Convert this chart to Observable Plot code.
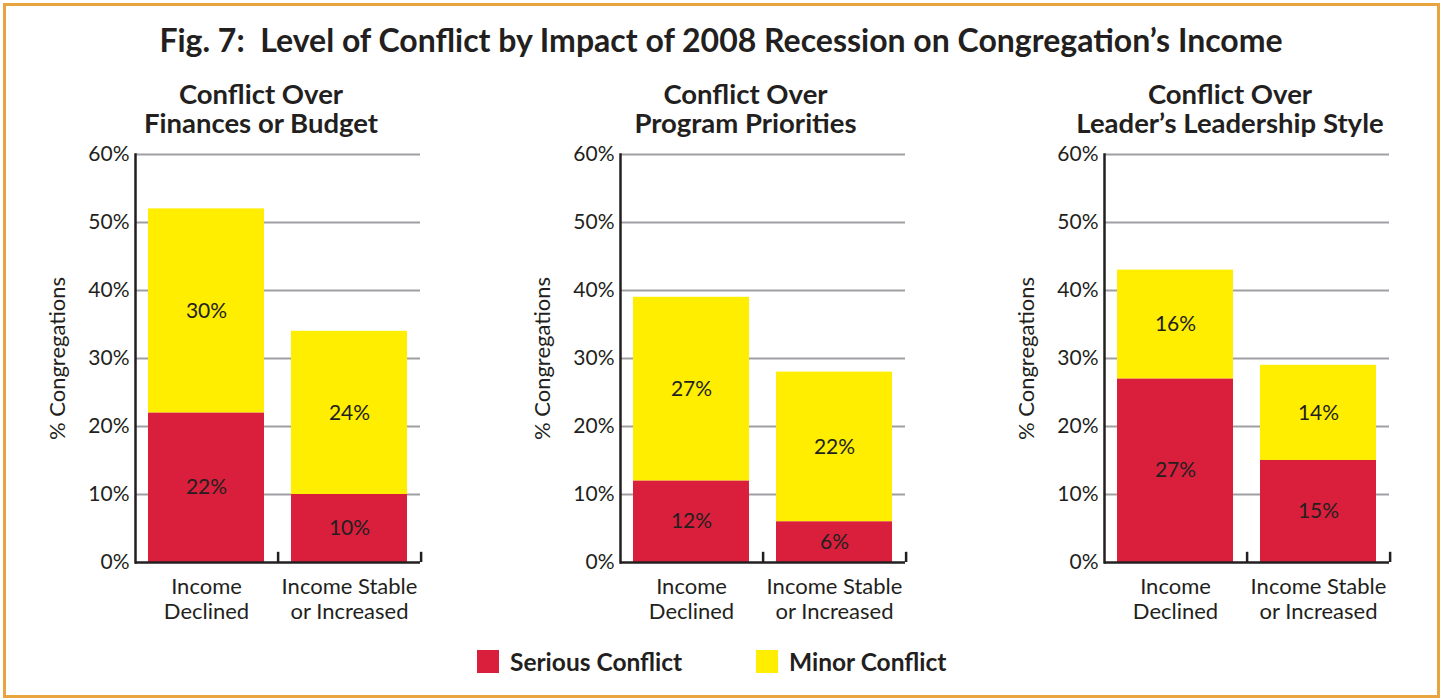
<!DOCTYPE html>
<html><head><meta charset="utf-8">
<script src="https://cdn.jsdelivr.net/npm/d3@7"></script>
<script src="https://cdn.jsdelivr.net/npm/@observablehq/plot@0.6"></script>
<style>
body{margin:0;background:#fff;font-family:Lato,"Open Sans",sans-serif;color:#231F20}
#wrap{position:relative;width:1442px;height:700px;overflow:hidden;background:#fff}
#frame{position:absolute;left:3px;top:3px;width:1437px;height:695px;border:3px solid #E8A43E;box-sizing:border-box}
.abs{position:absolute;white-space:nowrap}
#title{left:0;width:1442px;text-align:center;top:21px;font-weight:700;font-size:32px;line-height:38px}
.sub{font-weight:700;font-size:27.5px;line-height:29px;text-align:center;transform:translateX(-50%);white-space:pre}
.panel{position:absolute;top:140px}
.leg{display:flex;align-items:center;font-weight:700;font-size:24.5px}
.sw{width:22px;height:23px;margin-right:11px}
</style>
</head><body>
<div id="wrap">
  <div id="frame"></div>
  <div id="title" class="abs">Fig. 7:&nbsp; Level of Conflict by Impact of 2008 Recession on Congregation’s Income</div>
</div>
<script>
const panelTitles = ["Conflict Over\nFinances or Budget", "Conflict Over\nProgram Priorities", "Conflict Over\nLeader’s Leadership Style"];
const categories = ["Income\nDeclined", "Income Stable\nor Increased"];
const seriesNames = ["Serious Conflict", "Minor Conflict"];
const seriousValues = [[22, 10], [12, 6], [27, 15]];
const minorValues = [[30, 24], [27, 22], [16, 14]];
const yTicks = [0, 10, 20, 30, 40, 50, 60];
const seriesColors = ["#DA1F3D", "#FFEE00"];

const wrap = document.getElementById("wrap");
const W = 403, H = 492, ML = 105, MR = 13, MT = 14, MB = 70;
const pInner = 0.19, pOuter = 0.09;
const step = (W - ML - MR) / (categories.length - pInner + 2 * pOuter);

panelTitles.forEach((pt, i) => {
  const left = 30 + i * 484.5;
  const rows = [];
  categories.forEach((c, j) => {
    rows.push({cat: c, series: seriesNames[0], value: seriousValues[i][j]});
    rows.push({cat: c, series: seriesNames[1], value: minorValues[i][j]});
  });
  const chart = Plot.plot({
    width: W, height: H, marginLeft: ML, marginRight: MR, marginTop: MT, marginBottom: MB,
    style: {fontFamily: "Lato, 'Open Sans', sans-serif", fontSize: "21px", color: "#231F20", background: "transparent", overflow: "visible"},
    x: {domain: categories, paddingInner: pInner, paddingOuter: pOuter, axis: null},
    y: {domain: [0, 60], axis: null},
    color: {domain: seriesNames, range: seriesColors},
    marks: [
      Plot.ruleY(yTicks.filter(t => t > 0), {y: d => d, stroke: "#9FA0A4", strokeWidth: 2.2}),
      Plot.barY(rows, {x: "cat", y: "value", fill: "series", order: seriesNames}),
      Plot.text(rows, Plot.stackY({x: "cat", y: "value", z: "series", order: seriesNames, text: d => d.value + "%", fill: "#231F20", fontSize: 21})),
      Plot.ruleX(categories, {x: d => d, y1: 0, y2: 1.5, dx: step / 2, stroke: "#231F20", strokeWidth: 2.5}),
      Plot.ruleY([0], {stroke: "#231F20", strokeWidth: 2.5}),
      Plot.frame({anchor: "left", stroke: "#231F20", strokeWidth: 2.5}),
      Plot.axisY({ticks: yTicks, tickFormat: d => d + "%", tickSize: 0, tickPadding: 6, fontSize: 21, label: null}),
      Plot.text(["% Congregations"], {text: d => d, frameAnchor: "left", textAnchor: "middle", rotate: -90, dx: -78, fontSize: 22, fill: "#231F20"}),
      Plot.text(categories, {x: d => d, text: d => d, frameAnchor: "bottom", lineAnchor: "top", dy: 14, lineHeight: 1.14, fontSize: 22, fill: "#231F20"})
    ]
  });
  const div = document.createElement("div");
  div.className = "panel";
  div.style.left = left + "px";
  div.appendChild(chart);
  wrap.appendChild(div);

  const sub = document.createElement("div");
  sub.className = "abs sub";
  sub.style.left = (261 + i * 484.5) + "px";
  sub.style.top = "79px";
  sub.textContent = pt;
  wrap.appendChild(sub);
});

const legend = document.createElement("div");
legend.className = "abs";
legend.style.left = "477px";
legend.style.top = "647px";
const legX = [0, 279];
seriesNames.forEach((s, k) => {
  const it = document.createElement("div");
  it.className = "leg";
  it.style.position = "absolute";
  it.style.left = legX[k] + "px";
  it.innerHTML = `<div class="sw" style="background:${seriesColors[k]}"></div><span>${s}</span>`;
  legend.appendChild(it);
});
wrap.appendChild(legend);
</script>
</body></html>
